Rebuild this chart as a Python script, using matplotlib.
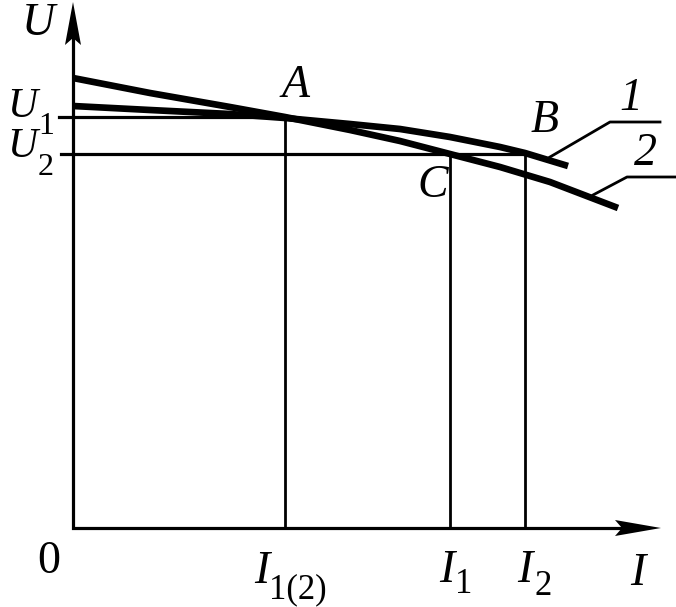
import matplotlib
matplotlib.use("Agg")
import matplotlib.pyplot as plt

plt.rcParams['font.family'] = ['Liberation Serif', 'DejaVu Serif']

# curve points (I, U), origin at the axes corner
curve1_i = [0, 77, 157, 212, 277, 327, 377, 427, 452, 495]
curve1_u = [422, 418, 414, 410, 404, 399, 391, 381, 375, 362]
curve2_i = [0, 77, 157, 212, 277, 327, 377, 427, 477, 545]
curve2_u = [450, 435, 421, 411, 398, 387, 374, 361, 346, 320]

# marked levels
u1, u2 = 411, 374
i12, i1, i2 = 212, 377, 452

fig = plt.figure(figsize=(6.76, 6.07), dpi=100)
ax = fig.add_axes([0, 0, 1, 1])
ax.set_xlim(-73, 603)
ax.set_ylim(-79, 528)
ax.axis('off')

def px(x, y):
    return x - 73, 528 - y

def arrowhead(pts):
    xs, ys = zip(*[px(*p) for p in pts])
    ax.fill(xs, ys, color='black', lw=0)

# axes with arrows
x, y = zip(px(73, 30), px(73, 528), px(640, 528))
ax.plot(x, y, color='black', lw=2.3, solid_joinstyle='miter')
arrowhead([(73, 2), (81, 45), (73, 38), (65, 45)])
arrowhead([(661, 528), (615, 520), (622, 528), (615, 536)])

# curves
ax.plot(curve1_i, curve1_u, color='black', lw=4.8, solid_capstyle='butt')
ax.plot(curve2_i, curve2_u, color='black', lw=4.8, solid_capstyle='butt')

# level lines
ax.plot([-14, i12], [u1, u1], color='black', lw=2.3)
ax.plot([-12, i2], [u2, u2], color='black', lw=2.3)
ax.plot([i12, i12], [0, u1], color='black', lw=2.0)
ax.plot([i1, i1], [0, u2], color='black', lw=2.0)
ax.plot([i2, i2], [0, u2], color='black', lw=2.0)

# leaders for curve numbers
x, y = zip(px(550, 157), px(610, 122), px(660, 122))
ax.plot(x, y, color='black', lw=2.0)
x, y = zip(px(593, 195), px(627, 177), px(676, 177))
ax.plot(x, y, color='black', lw=2.0)

fs = 33
sub = 25

def label(s, x, y, size=fs, style='italic', ha='center'):
    ax.text(*px(x, y), s, fontsize=size, style=style, ha=ha, va='baseline')

label('U', 38, 35)
label('A', 296, 97)
label('B', 545, 132)
label('C', 433, 197)
label('1', 631, 110)
label('2', 645, 165)
label('0', 49, 573, style='normal')
label('I', 638, 585)

# letters with subscripts
label('U', 22, 117, size=30)
label('1', 38, 134, size=23, style='normal', ha='left')
label('U', 22, 157, size=30)
label('2', 38, 175, size=23, style='normal', ha='left')
label('I', 262, 583)
label('1(2)', 269, 598, size=sub, style='normal', ha='left')
label('I', 447, 582)
label('1', 455, 593, size=sub, style='normal', ha='left')
label('I', 525, 582)
label('2', 534, 595, size=sub, style='normal', ha='left')

fig.savefig('out.png', dpi=100)
